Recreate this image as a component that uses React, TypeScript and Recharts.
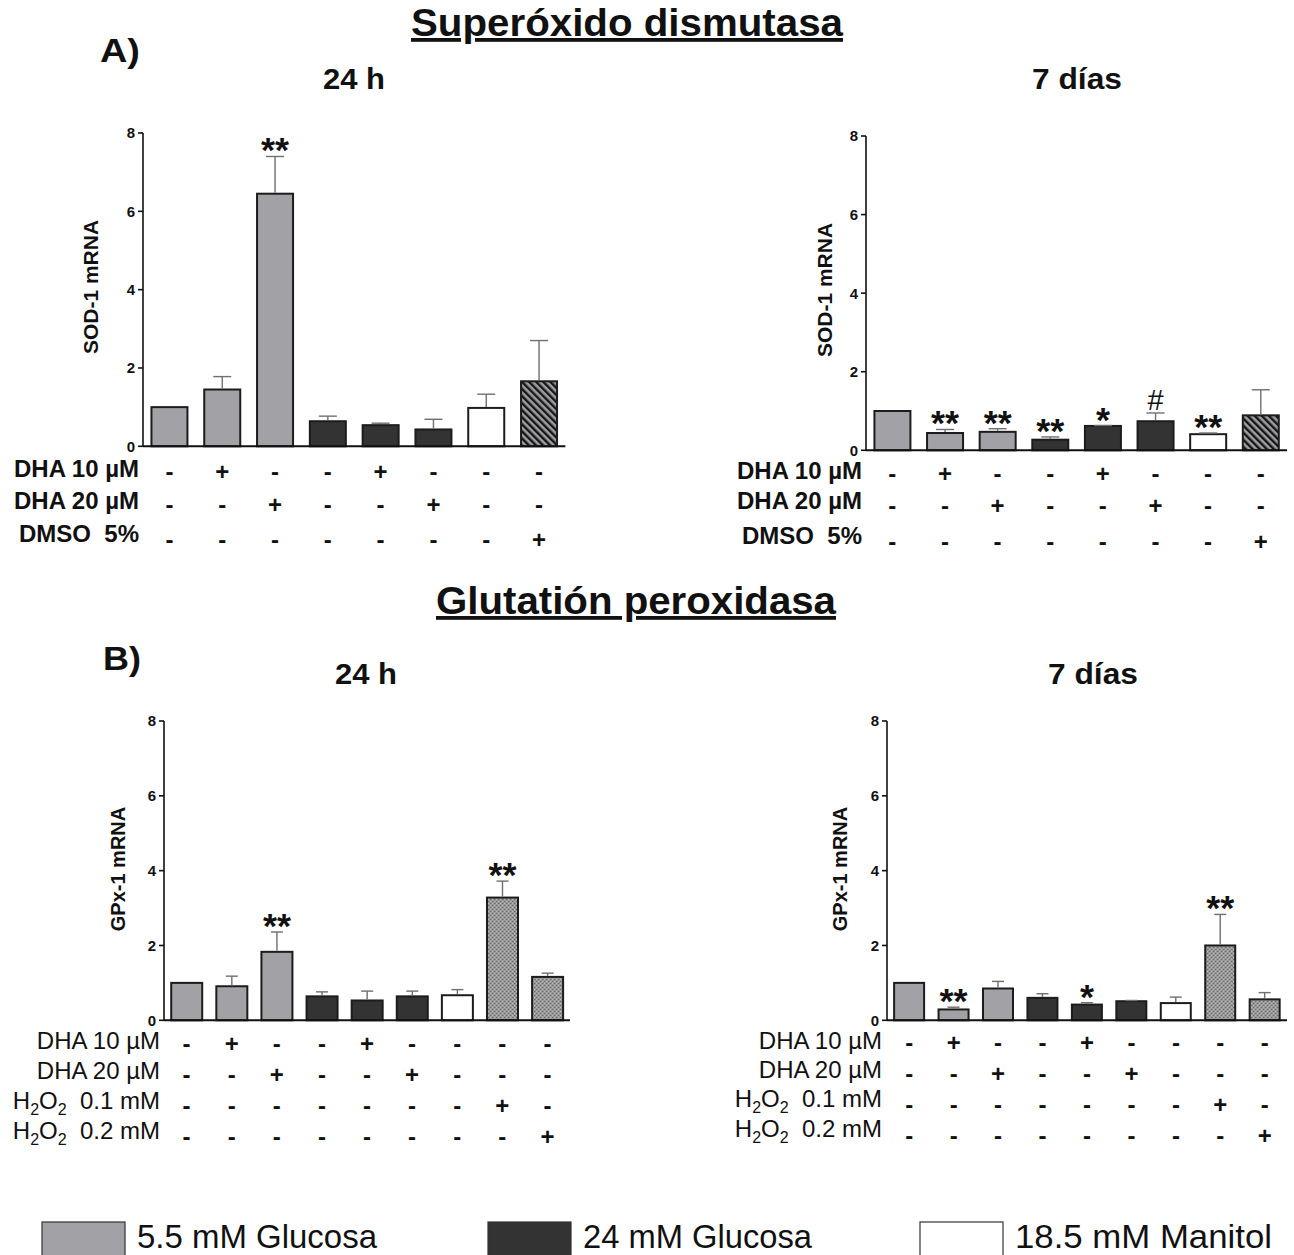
import { BarChart, Bar, XAxis, YAxis } from 'recharts';

const ARIAL = '"Liberation Sans", Arial, Helvetica, sans-serif';

// bar groups (fill) per condition
const sodGroups = ['g55', 'g55', 'g55', 'g24', 'g24', 'g24', 'man', 'dmso'];
const gpxGroups = ['g55', 'g55', 'g55', 'g24', 'g24', 'g24', 'man', 'h2o2', 'h2o2'];

// SOD-1, 24 h
const sod24Mean = [1.0, 1.45, 6.45, 0.64, 0.54, 0.43, 0.98, 1.66];
const sod24Err = [null, 1.78, 7.4, 0.77, 0.59, 0.69, 1.33, 2.7];
const sod24Sig = ['', '', '**', '', '', '', '', ''];

// SOD-1, 7 días
const sod7Mean = [1.0, 0.44, 0.47, 0.27, 0.62, 0.74, 0.41, 0.89];
const sod7Err = [null, 0.53, 0.55, 0.34, 0.63, 0.95, 0.44, 1.54];
const sod7Sig = ['', '**', '**', '**', '*', '#', '**', ''];

// GPx-1, 24 h
const gpx24Mean = [1.0, 0.91, 1.83, 0.64, 0.53, 0.64, 0.67, 3.28, 1.16];
const gpx24Err = [null, 1.18, 2.36, 0.76, 0.78, 0.78, 0.82, 3.72, 1.26];
const gpx24Sig = ['', '', '**', '', '', '', '', '**', ''];

// GPx-1, 7 días
const gpx7Mean = [1.0, 0.29, 0.85, 0.6, 0.42, 0.51, 0.46, 2.0, 0.56];
const gpx7Err = [null, 0.35, 1.04, 0.71, 0.47, 0.53, 0.62, 2.83, 0.74];
const gpx7Sig = ['', '**', '', '', '*', '', '', '**', ''];

// treatment table
const sodRowLabels = ['DHA 10 µM', 'DHA 20 µM', 'DMSO  5%'];
const sodDha10 = ['-', '+', '-', '-', '+', '-', '-', '-'];
const sodDha20 = ['-', '-', '+', '-', '-', '+', '-', '-'];
const sodDmso = ['-', '-', '-', '-', '-', '-', '-', '+'];

const gpxRowLabels = ['DHA 10 µM', 'DHA 20 µM', 'H2O2  0.1 mM', 'H2O2  0.2 mM'];
const gpxDha10 = ['-', '+', '-', '-', '+', '-', '-', '-', '-'];
const gpxDha20 = ['-', '-', '+', '-', '-', '+', '-', '-', '-'];
const gpxH01 = ['-', '-', '-', '-', '-', '-', '-', '+', '-'];
const gpxH02 = ['-', '-', '-', '-', '-', '-', '-', '-', '+'];

const yTicks = [0, 2, 4, 6, 8];

const legendItems = [
  { label: '5.5 mM Glucosa', group: 'g55' },
  { label: '24 mM Glucosa', group: 'g24' },
  { label: '18.5 mM Manitol', group: 'man' },
];

const FILLS: Record<string, string> = {
  g55: '#a2a1a6',
  g24: '#333333',
  man: '#ffffff',
  dmso: 'url(#hatch)',
  h2o2: 'url(#stipple)',
};

function buildData(groups: string[], mean: number[], err: (number | null)[], sig: string[]) {
  return mean.map((m, i) => ({ cat: `c${i + 1}`, mean: m, err: err[i], sig: sig[i], group: groups[i] }));
}

function makeShape(capW: number) {
  return (props: any) => {
    const { x, y, width, height, payload } = props;
    const cx = x + width / 2;
    const perUnit = height / payload.mean;
    const errY = payload.err != null ? y - (payload.err - payload.mean) * perUnit : null;
    const topY = errY ?? y;
    return (
      <g>
        <rect x={x} y={y} width={width} height={height} fill={FILLS[payload.group]} stroke="#1c1c1c" strokeWidth={2} />
        {errY != null && (
          <g stroke="#6f6f6f" strokeWidth={1.4}>
            <line x1={cx} x2={cx} y1={y - 1} y2={errY} />
            <line x1={cx - capW / 2} x2={cx + capW / 2} y1={errY} y2={errY} />
          </g>
        )}
        {payload.sig === '#' && (
          <text x={cx} y={topY - 3} textAnchor="middle" fontFamily={ARIAL} fontSize={29} fill="#111">#</text>
        )}
        {payload.sig && payload.sig !== '#' && (
          <text x={cx} y={topY + 6} textAnchor="middle" fontFamily={ARIAL} fontWeight="bold" fontSize={36} fill="#111">{payload.sig}</text>
        )}
      </g>
    );
  };
}

function makeTick(rows: string[][], offsets: number[]) {
  return (props: any) => {
    const { x, index } = props;
    const base = props.y - 8; // tick y sits below axis by tickMargin
    return (
      <g>
        {rows.map((r, k) => (
          <text key={k} x={x} y={base + offsets[k] + 8} textAnchor="middle" fontFamily={ARIAL} fontWeight="bold" fontSize={24} fill="#111">
            {r[index]}
          </text>
        ))}
      </g>
    );
  };
}

function YTick(props: any) {
  const { x, y, payload } = props;
  return (
    <text x={x} y={y + 5.5} textAnchor="end" fontFamily={ARIAL} fontWeight="bold" fontSize={15} fill="#111">
      {payload.value}
    </text>
  );
}

interface PanelProps {
  data: any[];
  rows: string[][];
  offsets: number[];
  plotLeft: number;
  plotTop: number;
  plotW: number;
  plotH: number;
  capW: number;
}

const Y_W = 40;
const TOP_PAD = 20;
const RIGHT_PAD = 10;
const TABLE_H = 130;

function Panel({ data, rows, offsets, plotLeft, plotTop, plotW, plotH, capW }: PanelProps) {
  const width = Y_W + plotW + RIGHT_PAD;
  const height = TOP_PAD + plotH + TABLE_H;
  return (
    <div style={{ position: 'absolute', left: plotLeft - Y_W, top: plotTop - TOP_PAD, width, height }}>
      <BarChart width={width} height={height} data={data} barCategoryGap="16%"
        margin={{ top: TOP_PAD, right: RIGHT_PAD, bottom: 0, left: 0 }} style={{ overflow: 'visible' }}>
        <XAxis dataKey="cat" interval={0} height={TABLE_H} tickLine={false} tickMargin={8}
          axisLine={{ stroke: '#111', strokeWidth: 2 }} tick={makeTick(rows, offsets)} />
        <YAxis width={Y_W} domain={[0, 8]} ticks={yTicks} interval={0} tickSize={5} tickMargin={3}
          axisLine={{ stroke: '#111', strokeWidth: 1.6 }} tickLine={{ stroke: '#111', strokeWidth: 1.6 }}
          tick={<YTick />} />
        <Bar dataKey="mean" isAnimationActive={false} shape={makeShape(capW)} />
      </BarChart>
    </div>
  );
}

function RowLabel({ x, y, text, bold }: { x: number; y: number; text: string; bold: boolean }) {
  const fw = bold ? 'bold' : 'normal';
  if (text.startsWith('H2O2')) {
    const rest = text.slice(4);
    return (
      <text x={x} y={y} textAnchor="end" fontFamily={ARIAL} fontWeight={fw} fontSize={24} fill="#111" style={{ whiteSpace: 'pre' }}>
        H<tspan fontSize={16} dy={6}>2</tspan><tspan dy={-6}>O</tspan><tspan fontSize={16} dy={6}>2</tspan><tspan dy={-6}>{rest}</tspan>
      </text>
    );
  }
  return (
    <text x={x} y={y} textAnchor="end" fontFamily={ARIAL} fontWeight={fw} fontSize={24} fill="#111" style={{ whiteSpace: 'pre' }}>{text}</text>
  );
}

export default function App() {
  const sodRows = [sodDha10, sodDha20, sodDmso];
  const gpxRows = [gpxDha10, gpxDha20, gpxH01, gpxH02];
  return (
    <div style={{ position: 'absolute', left: 0, top: 0, width: 1294, height: 1255, background: '#fff', overflow: 'hidden' }}>
      <svg width={0} height={0} style={{ position: 'absolute' }}>
        <defs>
          <pattern id="hatch" patternUnits="userSpaceOnUse" width={5} height={5} patternTransform="rotate(-45)">
            <rect width={5} height={5} fill="#9e9da2" />
            <rect width={2.4} height={5} fill="#151515" />
          </pattern>
          <pattern id="stipple" patternUnits="userSpaceOnUse" width={4} height={4}>
            <rect width={4} height={4} fill="#9a9a9a" />
            <rect x={0} y={0} width={1.5} height={1} fill="#6c6c6c" />
            <rect x={2} y={2} width={1.5} height={1} fill="#6c6c6c" />
            <rect x={2} y={0} width={1} height={1} fill="#bdbdbd" />
            <rect x={0} y={2} width={1} height={1} fill="#bdbdbd" />
          </pattern>
        </defs>
      </svg>

      <Panel data={buildData(sodGroups, sod24Mean, sod24Err, sod24Sig)} rows={sodRows} offsets={[20, 53, 88]}
        plotLeft={142.6} plotTop={132.7} plotW={422.4} plotH={313.3} capW={18} />
      <Panel data={buildData(sodGroups, sod7Mean, sod7Err, sod7Sig)} rows={sodRows} offsets={[18, 50, 86]}
        plotLeft={866} plotTop={135.7} plotW={421} plotH={314.3} capW={18} />
      <Panel data={buildData(gpxGroups, gpx24Mean, gpx24Err, gpx24Sig)} rows={gpxRows} offsets={[18, 49, 80, 111]}
        plotLeft={164.4} plotTop={720.7} plotW={406} plotH={299.3} capW={12} />
      <Panel data={buildData(gpxGroups, gpx7Mean, gpx7Err, gpx7Sig)} rows={gpxRows} offsets={[17, 48, 79, 110]}
        plotLeft={887.3} plotTop={720.7} plotW={400} plotH={299.3} capW={12} />

      <svg width={1294} height={1255} style={{ position: 'absolute', left: 0, top: 0, pointerEvents: 'none' }}>
        <g fontFamily={ARIAL} fontWeight="bold" fill="#111">
          <text x={411} y={36} fontSize={38} textDecoration="underline" textLength={432} lengthAdjust="spacingAndGlyphs">Superóxido dismutasa</text>
          <text x={100} y={62} fontSize={34} textLength={40} lengthAdjust="spacingAndGlyphs">A)</text>
          <text x={323} y={89} fontSize={30} textLength={62} lengthAdjust="spacingAndGlyphs">24 h</text>
          <text x={1032} y={89} fontSize={30} textLength={90} lengthAdjust="spacingAndGlyphs">7 días</text>
          <text x={436} y={614} fontSize={38} textDecoration="underline" textLength={400} lengthAdjust="spacingAndGlyphs">Glutatión peroxidasa</text>
          <text x={103} y={670} fontSize={34} textLength={38} lengthAdjust="spacingAndGlyphs">B)</text>
          <text x={335} y={684} fontSize={30} textLength={62} lengthAdjust="spacingAndGlyphs">24 h</text>
          <text x={1048} y={684} fontSize={30} textLength={90} lengthAdjust="spacingAndGlyphs">7 días</text>
        </g>
        <g fontFamily={ARIAL} fontWeight="bold" fontSize={21} fill="#111">
          <text transform="translate(98,287) rotate(-90)" textAnchor="middle">SOD-1 mRNA</text>
          <text transform="translate(832,290) rotate(-90)" textAnchor="middle">SOD-1 mRNA</text>
          <text transform="translate(125,869) rotate(-90)" textAnchor="middle" fontSize={20}>GPx-1 mRNA</text>
          <text transform="translate(847,869) rotate(-90)" textAnchor="middle" fontSize={20}>GPx-1 mRNA</text>
        </g>
        {sodRowLabels.map((t, k) => (
          <RowLabel key={`a${k}`} x={139} y={[468, 500, 533][k] + 8.6} text={t} bold />
        ))}
        {sodRowLabels.map((t, k) => (
          <RowLabel key={`b${k}`} x={862} y={[470, 500, 535][k] + 8.6} text={t} bold />
        ))}
        {gpxRowLabels.map((t, k) => (
          <RowLabel key={`c${k}`} x={160} y={[1040, 1070, 1100, 1130][k] + 8.6} text={t} bold={false} />
        ))}
        {gpxRowLabels.map((t, k) => (
          <RowLabel key={`d${k}`} x={882} y={[1040, 1069, 1098, 1128][k] + 8.6} text={t} bold={false} />
        ))}
        {legendItems.map((it, k) => {
          const sx = [42, 488, 920][k];
          const tw = [240, 229, 257][k];
          return (
            <g key={it.label}>
              <rect x={sx} y={1222} width={83} height={40} fill={FILLS[it.group]} stroke="#333" strokeWidth={1.2} />
              <text x={sx + 95} y={1248} fontFamily={ARIAL} fontSize={33} fill="#111" textLength={tw} lengthAdjust="spacingAndGlyphs">{it.label}</text>
            </g>
          );
        })}
      </svg>
    </div>
  );
}
